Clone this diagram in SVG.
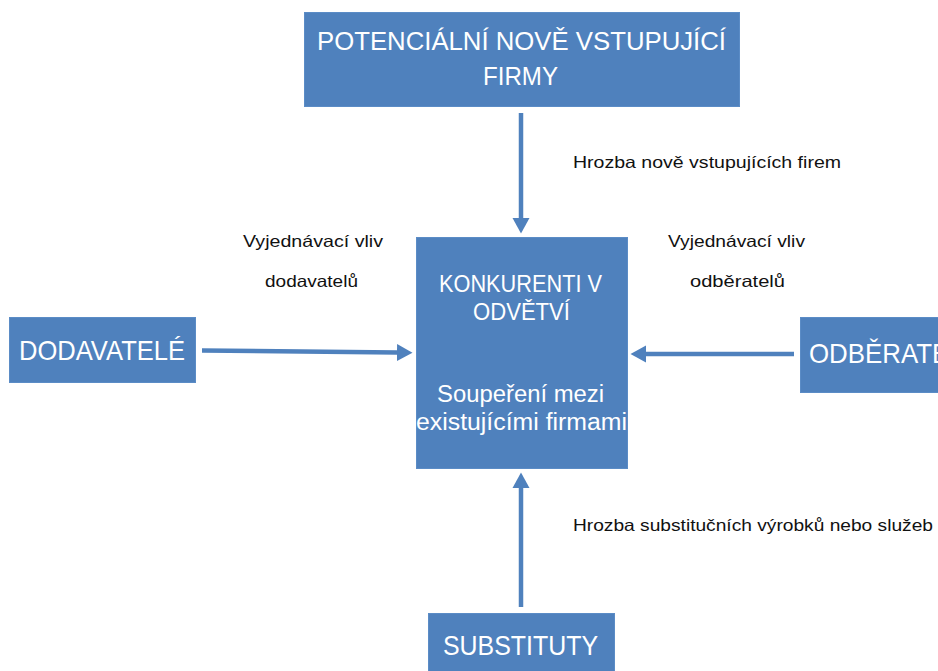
<svg xmlns="http://www.w3.org/2000/svg" width="938" height="671" viewBox="0 0 938 671">
  <style>
    .box { fill: #4F81BD; stroke: #5B8CC6; stroke-width: 1; }
    .big { font-family: "Liberation Sans", "Open Sans", sans-serif; fill: #FFFFFF; }
    .lbl { font-family: "Liberation Sans", "Open Sans", sans-serif; fill: #111111; font-size: 16.5px; }
    .arrow { stroke: #4F81BD; stroke-width: 4.5; fill: none; marker-end: url(#head); }
  </style>
  <defs>
    <marker id="head" markerUnits="userSpaceOnUse" markerWidth="16" markerHeight="18" viewBox="0 -9 16 18" refX="0" refY="0" orient="auto">
      <path d="M0,-8.5 L15.5,0 L0,8.5 Z" fill="#4F81BD"/>
    </marker>
  </defs>
  <rect width="938" height="671" fill="#FFFFFF"/>

  <!-- connectors -->
  <g id="connectors">
    <line class="arrow" x1="521" y1="113" x2="521" y2="218"/>
    <line class="arrow" x1="202" y1="350.5" x2="397" y2="352.5"/>
    <line class="arrow" x1="794" y1="354" x2="646" y2="354"/>
    <line class="arrow" x1="521" y1="607" x2="521" y2="488"/>
  </g>

  <!-- force labels -->
  <g id="labels">
    <text class="lbl" x="573" y="168" textLength="268" lengthAdjust="spacingAndGlyphs">Hrozba nově vstupujících firem</text>
    <text class="lbl" x="243" y="247" textLength="140" lengthAdjust="spacingAndGlyphs">Vyjednávací vliv</text>
    <text class="lbl" x="265" y="287" textLength="93" lengthAdjust="spacingAndGlyphs">dodavatelů</text>
    <text class="lbl" x="668" y="247" textLength="137" lengthAdjust="spacingAndGlyphs">Vyjednávací vliv</text>
    <text class="lbl" x="690" y="287" textLength="95" lengthAdjust="spacingAndGlyphs">odběratelů</text>
    <text class="lbl" x="573" y="531" textLength="360" lengthAdjust="spacingAndGlyphs">Hrozba substitučních výrobků nebo služeb</text>
  </g>

  <g id="new-entrants">
    <rect class="box" x="304.5" y="12.5" width="435" height="94"/>
    <text class="big" x="317" y="50" font-size="25.5" textLength="409" lengthAdjust="spacingAndGlyphs">POTENCIÁLNÍ NOVĚ VSTUPUJÍCÍ</text>
    <text class="big" x="483" y="85" font-size="25.5" textLength="75" lengthAdjust="spacingAndGlyphs">FIRMY</text>
  </g>

  <g id="competitors">
    <rect class="box" x="416.5" y="237.5" width="211" height="231"/>
    <text class="big" x="439" y="292" font-size="23" textLength="163" lengthAdjust="spacingAndGlyphs">KONKURENTI V</text>
    <text class="big" x="473" y="320" font-size="23" textLength="97" lengthAdjust="spacingAndGlyphs">ODVĚTVÍ</text>
    <text class="big" x="437" y="402" font-size="23" textLength="167" lengthAdjust="spacingAndGlyphs">Soupeření mezi</text>
    <text class="big" x="416" y="430" font-size="23" textLength="211" lengthAdjust="spacingAndGlyphs">existujícími firmami</text>
  </g>

  <g id="suppliers">
    <rect class="box" x="9.5" y="317.5" width="186" height="65"/>
    <text class="big" x="19" y="360" font-size="28" textLength="166" lengthAdjust="spacingAndGlyphs">DODAVATELÉ</text>
  </g>

  <g id="buyers">
    <rect class="box" x="800.5" y="317.5" width="200" height="75"/>
    <text class="big" x="809" y="363" font-size="28" textLength="172" lengthAdjust="spacingAndGlyphs">ODBĚRATELÉ</text>
  </g>

  <g id="substitutes">
    <rect class="box" x="428.5" y="613.5" width="186" height="70"/>
    <text class="big" x="443" y="655" font-size="28" textLength="155" lengthAdjust="spacingAndGlyphs">SUBSTITUTY</text>
  </g>
</svg>
